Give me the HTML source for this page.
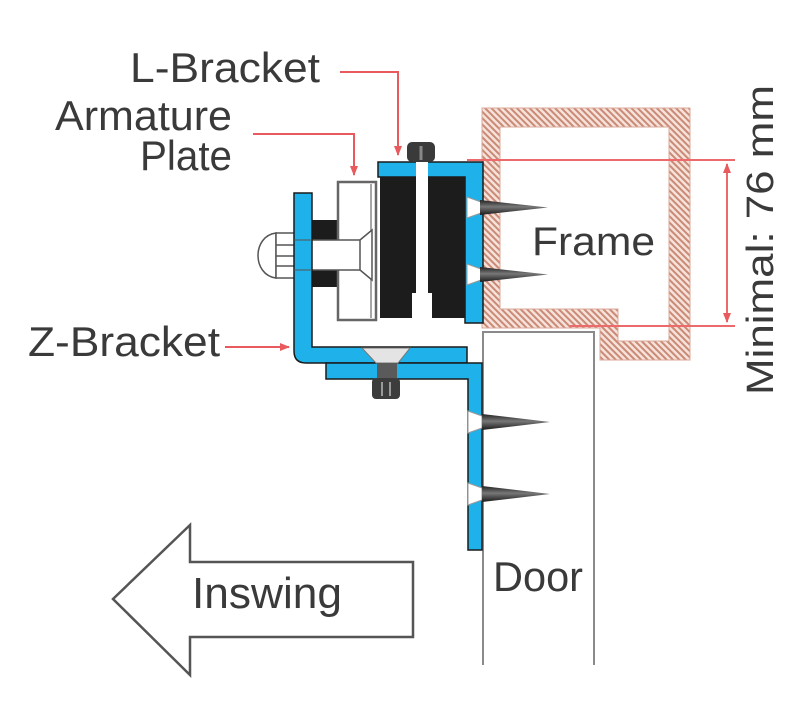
<!DOCTYPE html>
<html><head><meta charset="utf-8"><style>
html,body{margin:0;padding:0;background:#fff;}
svg{display:block;}
text{font-family:"Liberation Sans",Arial,sans-serif;fill:#3a3a3a;}
</style></head><body>
<svg width="800" height="713" viewBox="0 0 800 713" xmlns="http://www.w3.org/2000/svg">
<defs>
<pattern id="hatch" patternUnits="userSpaceOnUse" width="4.5" height="4.5" patternTransform="rotate(-45)">
<rect width="4.5" height="4.5" fill="#f6e2da"/>
<rect x="0" y="0" width="2" height="4.5" fill="#c98a76"/>
</pattern>
<marker id="ar" viewBox="0 0 10 10" refX="9" refY="5" markerWidth="5" markerHeight="5" orient="auto">
<path d="M0,1 L10,5 L0,9 Z" fill="#e85a5e"/>
</marker>
<marker id="ar2" viewBox="0 0 10 10" refX="9" refY="5" markerWidth="5" markerHeight="5" orient="auto-start-reverse">
<path d="M0,1 L10,5 L0,9 Z" fill="#e85a5e"/>
</marker>
<linearGradient id="spk" x1="0" y1="0" x2="0" y2="1">
<stop offset="0" stop-color="#222"/><stop offset="0.45" stop-color="#777"/><stop offset="1" stop-color="#1a1a1a"/>
</linearGradient>
</defs>

<!-- Frame -->
<path d="M482,108 H690 V360 H600 V328 H482 Z M500,127 V309 H618 V341 H669 V127 Z" fill="url(#hatch)" fill-rule="evenodd" stroke="#d9a999" stroke-width="1"/>

<!-- Door -->
<path d="M483,665 V332 H594 V665" fill="none" stroke="#8a8a8a" stroke-width="2"/>

<!-- Dimension lines -->
<line x1="467" y1="160" x2="735" y2="160" stroke="#ec6a6c" stroke-width="2"/>
<line x1="570" y1="326" x2="735" y2="326" stroke="#ec6a6c" stroke-width="2"/>
<line x1="727" y1="164" x2="727" y2="322" stroke="#ec6a6c" stroke-width="2" marker-start="url(#ar2)" marker-end="url(#ar)"/>

<!-- Leaders -->
<polyline points="340,72 398,72 398,155" fill="none" stroke="#e85a5e" stroke-width="2" marker-end="url(#ar)"/>
<polyline points="253,134 354,134 354,175" fill="none" stroke="#e85a5e" stroke-width="2" marker-end="url(#ar)"/>
<line x1="225" y1="347" x2="289" y2="347" stroke="#e85a5e" stroke-width="2" marker-end="url(#ar)"/>

<!-- Cap nut left -->
<path d="M276,233 C252,236 252,275 276,278 Z" fill="#fff" stroke="#555" stroke-width="1.5"/>
<rect x="276" y="233" width="19" height="45" fill="#fff" stroke="#555" stroke-width="1.5"/>
<line x1="276" y1="245" x2="295" y2="245" stroke="#555" stroke-width="1.5"/>
<line x1="276" y1="256" x2="295" y2="256" stroke="#555" stroke-width="1.5"/>
<line x1="276" y1="266" x2="295" y2="266" stroke="#555" stroke-width="1.5"/>

<!-- Spacers -->
<rect x="311" y="220" width="31" height="20" fill="#1c1c1c"/>
<rect x="311" y="270" width="31" height="17" fill="#1c1c1c"/>

<!-- Armature plate -->
<rect x="338" y="182" width="38" height="138" fill="#fff" stroke="#666" stroke-width="2.5"/>
<line x1="371" y1="184" x2="371" y2="318" stroke="#888" stroke-width="1.5"/>

<!-- Bolt shaft + countersunk head -->
<rect x="300" y="240" width="62" height="30" fill="#fff" stroke="#555" stroke-width="1.5"/>
<path d="M360,240 L372,230 L372,280 L360,270 Z" fill="#fff" stroke="#555" stroke-width="1.5"/>

<!-- Z-bracket -->
<path d="M294,193 H312 V347 H467 V363 H306 Q294,363 294,351 Z" fill="#1fb1e9" stroke="#1a1a1a" stroke-width="1.5"/>
<line x1="294" y1="240" x2="312" y2="240" stroke="#555" stroke-width="1"/>
<line x1="294" y1="270" x2="312" y2="270" stroke="#555" stroke-width="1"/>

<!-- Door bracket -->
<path d="M326,363 H482 V550 H468 V379 H326 Z" fill="#1fb1e9" stroke="#1a1a1a" stroke-width="1.5"/>

<!-- Countersunk screw -->
<path d="M362,348 H410 L398,363 H376 Z" fill="#e4e4e4" stroke="#777" stroke-width="1"/>
<rect x="377" y="363" width="20" height="17" fill="#5a5a5a"/>
<rect x="372" y="378" width="28" height="21" rx="4" fill="#3c3c3c"/>
<line x1="382" y1="382" x2="382" y2="396" stroke="#999" stroke-width="2"/>
<line x1="390" y1="382" x2="390" y2="396" stroke="#999" stroke-width="2"/>

<!-- Magnet L-bracket + body -->
<path d="M378,162 H483 V323 H465 V177 H378 Z" fill="#1fb1e9" stroke="#1a1a1a" stroke-width="1.5"/>
<rect x="380" y="177" width="85" height="141" fill="#1c1c1c"/>
<rect x="416" y="162" width="12" height="133" fill="#fff"/>
<rect x="412" y="293" width="20" height="25" fill="#fff"/>
<rect x="407" y="142" width="28" height="20" rx="5" fill="#3a3a3a"/>
<line x1="421" y1="146" x2="421" y2="160" stroke="#888" stroke-width="3"/>

<!-- Frame screws -->
<path d="M467,197 L481,202 L481,213 L467,218 Z" fill="#fff" stroke="#999" stroke-width="1"/>
<path d="M480,200 L548,207.5 L480,215 Z" fill="url(#spk)"/>
<path d="M467,264 L481,269 L481,280 L467,285 Z" fill="#fff" stroke="#999" stroke-width="1"/>
<path d="M480,267 L548,274.5 L480,282 Z" fill="url(#spk)"/>

<!-- Door screws -->
<path d="M468,411 L482,416 L482,428 L468,433 Z" fill="#fff" stroke="#999" stroke-width="1"/>
<path d="M482,414 L550,422 L482,430 Z" fill="url(#spk)"/>
<path d="M468,483 L482,488 L482,500 L468,505 Z" fill="#fff" stroke="#999" stroke-width="1"/>
<path d="M482,486 L550,494 L482,502 Z" fill="url(#spk)"/>

<!-- Inswing arrow -->
<path d="M113,599 L190,525 L190,562 L413,562 L413,637 L190,637 L190,675 Z" fill="#fff" stroke="#555" stroke-width="2.5" stroke-linejoin="miter"/>

<!-- Labels -->
<text x="130" y="82" font-size="42" textLength="190" lengthAdjust="spacingAndGlyphs">L-Bracket</text>
<text x="55" y="130" font-size="42" textLength="177" lengthAdjust="spacingAndGlyphs">Armature</text>
<text x="140" y="170" font-size="42" textLength="92" lengthAdjust="spacingAndGlyphs">Plate</text>
<text x="28" y="356" font-size="42" textLength="192" lengthAdjust="spacingAndGlyphs">Z-Bracket</text>
<text x="532" y="255" font-size="40" textLength="123" lengthAdjust="spacingAndGlyphs">Frame</text>
<text x="493" y="591" font-size="42" textLength="90" lengthAdjust="spacingAndGlyphs">Door</text>
<text x="192" y="608" font-size="44" textLength="150" lengthAdjust="spacingAndGlyphs">Inswing</text>
<text transform="translate(773,395) rotate(-90)" x="0" y="0" font-size="38" textLength="310" lengthAdjust="spacingAndGlyphs">Minimal: 76 mm</text>
</svg>
</body></html>
